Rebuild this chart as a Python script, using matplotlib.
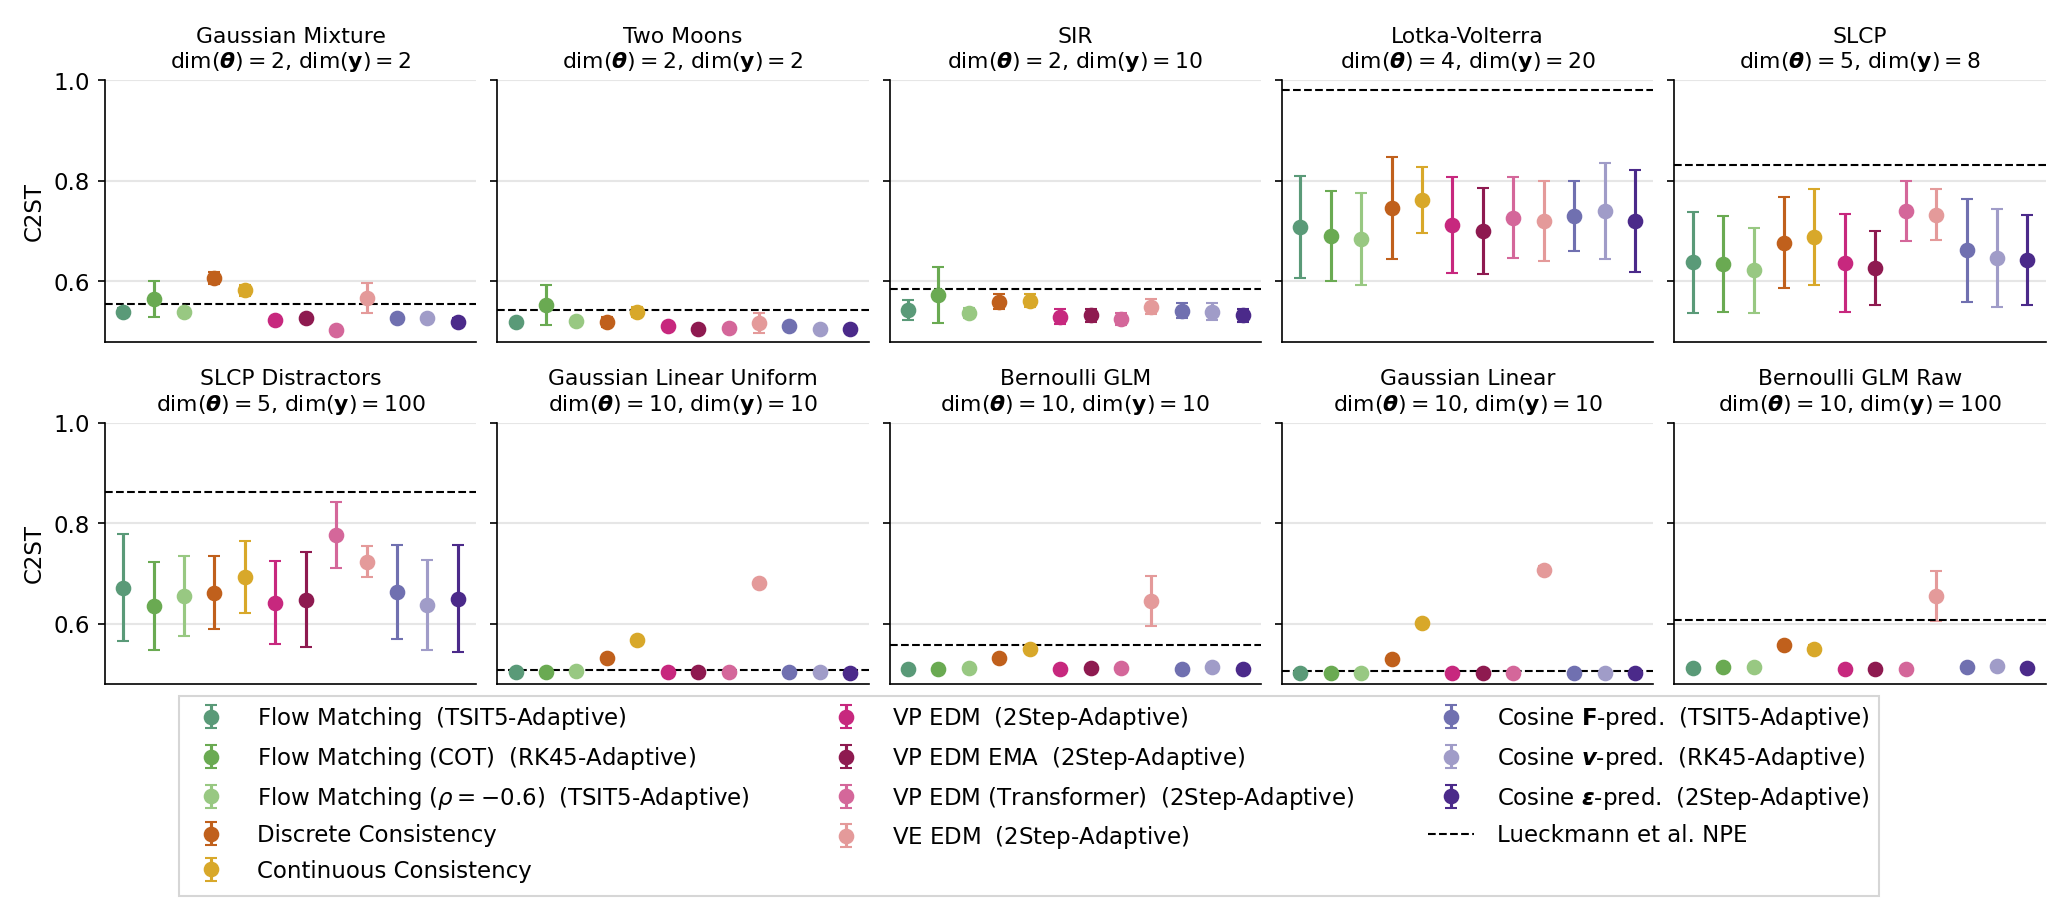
import numpy as np
import matplotlib.pyplot as plt
from matplotlib.lines import Line2D

methods = [
    r"Flow Matching $\;$(TSIT5-Adaptive)",
    r"Flow Matching (COT) $\;$(RK45-Adaptive)",
    r"Flow Matching ($\rho = -0.6$) $\;$(TSIT5-Adaptive)",
    r"Discrete Consistency",
    r"Continuous Consistency",
    r"VP EDM $\;$(2Step-Adaptive)",
    r"VP EDM EMA $\;$(2Step-Adaptive)",
    r"VP EDM (Transformer) $\;$(2Step-Adaptive)",
    r"VE EDM $\;$(2Step-Adaptive)",
    r"Cosine $\mathbf{F}$-pred. $\;$(TSIT5-Adaptive)",
    r"Cosine $\boldsymbol{v}$-pred. $\;$(RK45-Adaptive)",
    r"Cosine $\boldsymbol{\epsilon}$-pred. $\;$(2Step-Adaptive)",
]
colors = ["#5a9a78", "#6aaa52", "#98c882", "#c0601c", "#d8a82a", "#c7287e",
          "#8e1a50", "#d4679a", "#e49a9a", "#7070b0", "#a09cc8", "#4b2a8a"]

tasks = ["Gaussian Mixture", "Two Moons", "SIR", "Lotka-Volterra", "SLCP",
         "SLCP Distractors", "Gaussian Linear Uniform", "Bernoulli GLM",
         "Gaussian Linear", "Bernoulli GLM Raw"]
dim_theta = [2, 2, 2, 4, 5, 5, 10, 10, 10, 10]
dim_y = [2, 2, 10, 20, 8, 100, 10, 10, 10, 100]

means = [
    [0.540, 0.565, 0.540, 0.607, 0.582, 0.523, 0.527, 0.503, 0.567, 0.528, 0.528, 0.520],
    [0.520, 0.553, 0.522, 0.520, 0.540, 0.512, 0.505, 0.508, 0.518, 0.512, 0.505, 0.505],
    [0.543, 0.573, 0.537, 0.560, 0.562, 0.530, 0.533, 0.525, 0.550, 0.542, 0.540, 0.533],
    [0.708, 0.690, 0.684, 0.746, 0.762, 0.712, 0.700, 0.727, 0.720, 0.730, 0.740, 0.720],
    [0.638, 0.635, 0.622, 0.677, 0.688, 0.637, 0.627, 0.740, 0.733, 0.662, 0.647, 0.643],
    [0.672, 0.635, 0.655, 0.662, 0.693, 0.642, 0.648, 0.777, 0.724, 0.663, 0.637, 0.650],
    [0.505, 0.505, 0.507, 0.533, 0.567, 0.505, 0.505, 0.505, 0.682, 0.505, 0.505, 0.503],
    [0.510, 0.510, 0.512, 0.532, 0.550, 0.510, 0.513, 0.512, 0.645, 0.510, 0.515, 0.510],
    [0.503, 0.503, 0.502, 0.530, 0.602, 0.503, 0.503, 0.503, 0.708, 0.503, 0.502, 0.503],
    [0.512, 0.515, 0.515, 0.557, 0.550, 0.510, 0.510, 0.510, 0.655, 0.515, 0.517, 0.512],
]
errs = [
    [0.008, 0.035, 0.006, 0.012, 0.010, 0.006, 0.006, 0.005, 0.030, 0.006, 0.006, 0.008],
    [0.006, 0.040, 0.006, 0.010, 0.010, 0.005, 0.004, 0.005, 0.020, 0.005, 0.004, 0.004],
    [0.020, 0.055, 0.010, 0.015, 0.012, 0.015, 0.013, 0.012, 0.015, 0.015, 0.017, 0.013],
    [0.102, 0.090, 0.092, 0.102, 0.065, 0.095, 0.085, 0.080, 0.080, 0.070, 0.095, 0.102],
    [0.100, 0.095, 0.085, 0.090, 0.095, 0.097, 0.073, 0.060, 0.050, 0.102, 0.098, 0.090],
    [0.106, 0.088, 0.080, 0.073, 0.072, 0.083, 0.095, 0.065, 0.030, 0.093, 0.090, 0.107],
    [0.003, 0.003, 0.003, 0.005, 0.005, 0.003, 0.003, 0.003, 0.006, 0.003, 0.003, 0.003],
    [0.003, 0.003, 0.003, 0.005, 0.006, 0.003, 0.004, 0.003, 0.050, 0.003, 0.004, 0.003],
    [0.003, 0.003, 0.003, 0.005, 0.005, 0.003, 0.003, 0.003, 0.007, 0.003, 0.003, 0.003],
    [0.004, 0.004, 0.004, 0.006, 0.008, 0.003, 0.003, 0.003, 0.050, 0.004, 0.004, 0.004],
]
npe = [0.555, 0.543, 0.585, 0.980, 0.832, 0.862, 0.508, 0.558, 0.506, 0.608]

fig, axes = plt.subplots(2, 5, figsize=(13.72, 5.99), dpi=150, sharey=True)
fig.subplots_adjust(left=0.051, right=0.994, top=0.91, bottom=0.238,
                    wspace=0.057, hspace=0.31)

x = np.arange(len(methods))
for k, ax in enumerate(axes.flat):
    for i in range(len(methods)):
        ax.errorbar(x[i], means[k][i], yerr=errs[k][i], fmt="o", color=colors[i],
                    ms=6.5, capsize=3, elinewidth=1.5, label=methods[i])
    ax.axhline(npe[k], color="black", ls="--", lw=1, label="Lueckmann et al. NPE")
    ax.set_ylim(0.48, 1.0)
    ax.set_xlim(-0.6, len(methods) - 0.4)
    ax.set_yticks([0.6, 0.8, 1.0])
    ax.set_xticks([])
    ax.grid(axis="y", color="#e6e6e6", lw=1)
    ax.set_axisbelow(True)
    for s in ["top", "right"]:
        ax.spines[s].set_visible(False)
    ax.set_title(f"{tasks[k]}\n" + r"dim($\boldsymbol{\theta}$)$=$" + f"{dim_theta[k]}, "
                 + r"dim($\mathbf{y}$)$=$" + f"{dim_y[k]}", fontsize=10.5)
    if k % 5 == 0:
        ax.set_ylabel("C2ST", fontsize=11)
    ax.tick_params(labelsize=11)

handles, labels = axes.flat[0].get_legend_handles_labels()
blank = Line2D([], [], linestyle="none")
order_h = handles[1:6] + handles[6:10] + [blank] + handles[10:13] + [handles[0], blank]
order_l = labels[1:6] + labels[6:10] + [""] + labels[10:13] + [labels[0], ""]
fig.legend(order_h, order_l, loc="lower center", ncol=3, fontsize=11,
           bbox_to_anchor=(0.5, -0.01), fancybox=False, edgecolor="#cccccc",
           columnspacing=3.2, handletextpad=1.0, labelspacing=0.55)

fig.savefig("out.png", dpi=150)
